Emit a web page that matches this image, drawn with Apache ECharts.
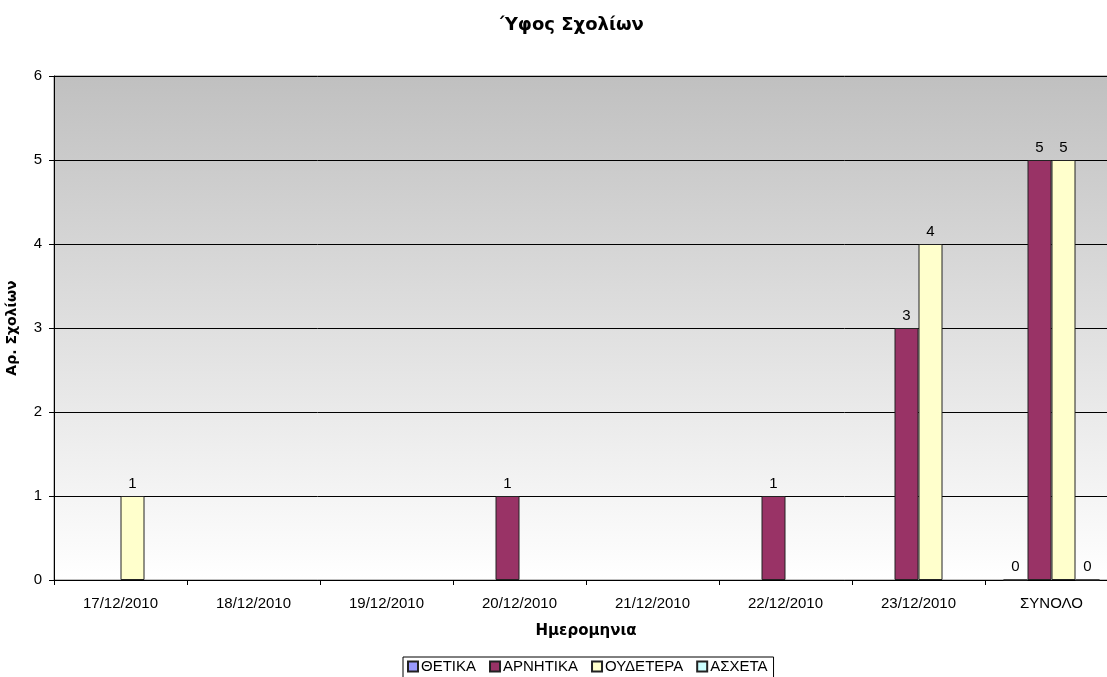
<!DOCTYPE html>
<html>
<head>
<meta charset="utf-8">
<title>Ύφος Σχολίων</title>
<script src="https://cdn.jsdelivr.net/npm/echarts@6/dist/echarts.min.js"></script>
<style>
  html, body { margin: 0; padding: 0; background: #fff; }
  #chart { width: 1107px; height: 677px; }
</style>
</head>
<body>
<div id="chart"></div>
<script>
// κατηγορίες (ημερομηνίες) και τιμές ανά σειρά
var categories = ['17/12/2010', '18/12/2010', '19/12/2010', '20/12/2010', '21/12/2010', '22/12/2010', '23/12/2010', 'ΣΥΝΟΛΟ'];
var thetika    = [null, null, null, null, null, null, null, 0];
var arnitika   = [null, null, null, 1, null, 1, 3, 5];
var oudetera   = [1, null, null, null, null, null, 4, 5];
var asxeta     = [null, null, null, null, null, null, null, 0];
var yTicks     = [0, 1, 2, 3, 4, 5, 6];

var chart = echarts.init(document.getElementById('chart'));

function barSeries(name, data, color) {
    return {
        name: name,
        type: 'bar',
        data: data,
        barWidth: 24,
        barGap: '0%',
        itemStyle: {
            color: color,
            borderColor: '#222',
            borderWidth: 1
        },
        label: {
            show: true,
            position: 'top',
            distance: 5,
            color: '#000',
            fontFamily: 'Liberation Sans, Arial',
            fontSize: 15
        }
    };
}

var option = {
    animation: false,
    backgroundColor: '#fff',
    title: {
        text: 'Ύφος Σχολίων',
        left: 567,
        top: 11,
        textAlign: 'center',
        textStyle: {
            fontFamily: 'DejaVu Sans',
            fontWeight: 'bold',
            fontSize: 18,
            color: '#000'
        }
    },
    legend: {
        left: 403,
        top: 657,
        itemWidth: 10,
        itemHeight: 10,
        itemGap: 13,
        icon: 'rect',
        padding: [2, 6, 4, 4],
        borderColor: '#000',
        borderWidth: 1,
        textStyle: {
            fontFamily: 'Liberation Sans, Arial',
            fontSize: 15,
            color: '#000',
            padding: [0, 0, 0, -2]
        }
    },
    grid: {
        left: 54,
        top: 76,
        width: 1064,
        height: 504,
        containLabel: false,
        outerBoundsMode: 'none',
        show: true,
        borderColor: '#808080',
        borderWidth: 1,
        backgroundColor: new echarts.graphic.LinearGradient(0, 0, 0, 1, [
            { offset: 0, color: '#c0c0c0' },
            { offset: 1, color: '#ffffff' }
        ])
    },
    xAxis: {
        type: 'category',
        data: categories,
        name: 'Ημερομηνια',
        nameLocation: 'middle',
        nameGap: 44,
        nameTextStyle: {
            fontFamily: 'DejaVu Sans',
            fontWeight: 'bold',
            fontSize: 15,
            color: '#000'
        },
        axisLine: { lineStyle: { color: '#000', width: 1 } },
        axisTick: { show: true, length: 5, lineStyle: { color: '#000' } },
        axisLabel: {
            margin: 16,
            fontFamily: 'Liberation Sans, Arial',
            fontSize: 15,
            color: '#000'
        }
    },
    yAxis: {
        type: 'value',
        min: yTicks[0],
        max: yTicks[yTicks.length - 1],
        interval: 1,
        name: 'Αρ. Σχολίων',
        nameLocation: 'middle',
        nameGap: 35,
        nameTextStyle: {
            fontFamily: 'DejaVu Sans',
            fontWeight: 'bold',
            fontSize: 14,
            color: '#000'
        },
        axisLine: { show: true, lineStyle: { color: '#000', width: 1 } },
        axisTick: { show: true, length: 5, lineStyle: { color: '#000' } },
        axisLabel: {
            margin: 12,
            fontFamily: 'Liberation Sans, Arial',
            fontSize: 15,
            color: '#000'
        },
        splitLine: { show: true, lineStyle: { color: '#000', width: 1 } }
    },
    series: [
        barSeries('ΘΕΤΙΚΑ', thetika, '#9999ff'),
        barSeries('ΑΡΝΗΤΙΚΑ', arnitika, '#993366'),
        barSeries('ΟΥΔΕΤΕΡΑ', oudetera, '#ffffcc'),
        barSeries('ΑΣΧΕΤΑ', asxeta, '#ccffff')
    ]
};

chart.setOption(option);
window.addEventListener('resize', function () {
    chart.resize();
});
</script>
</body>
</html>
